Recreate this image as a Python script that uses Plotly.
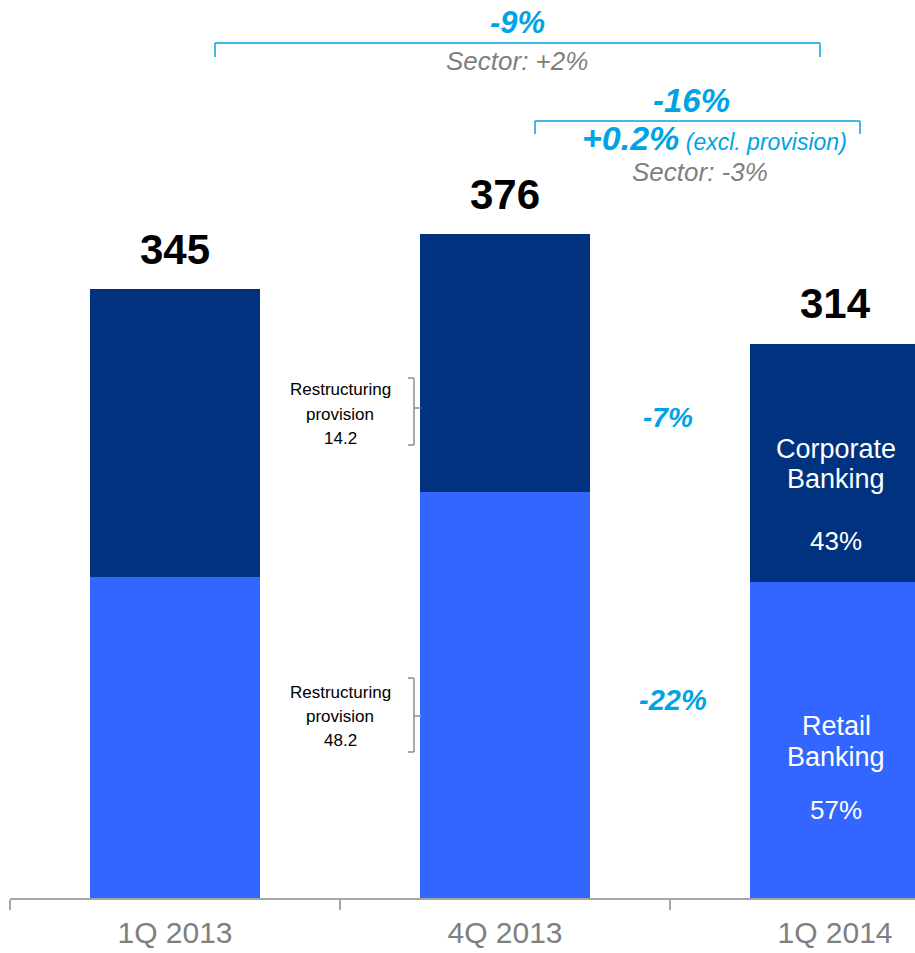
import plotly.graph_objects as go

# Operating expenses by segment, quarterly
quarters = ["1Q 2013", "4Q 2013", "1Q 2014"]
retail_banking = [182, 230, 179]
corporate_banking = [163, 146, 135]
totals = [r + c for r, c in zip(retail_banking, corporate_banking)]

provision_corporate = 14.2
provision_retail = 48.2

yoy_change = "-9%"
yoy_sector = "Sector: +2%"
qoq_change = "-16%"
qoq_excl_provision = "+0.2%"
qoq_sector = "Sector: -3%"
corporate_change = "-7%"
retail_change = "-22%"

W, H = 915, 953
ML, MR, MT, MB = 10, 0, 0, 55
PLOT_W = W - ML - MR
PLOT_H = H - MT - MB

DARK = "#003280"
LIGHT = "#3366FF"
CYAN = "#00A3E4"
GREY_TXT = "#7F7F7F"
AXIS_GREY = "#A6A6A6"
BRACKET_GREY = "#8C8C8C"
FONT = "Liberation Sans, Arial, sans-serif"


def px(x):
    return (x - ML) / PLOT_W


def py(y):
    return (MT + PLOT_H - y) / PLOT_H


fig = go.Figure()
fig.add_trace(go.Bar(x=quarters, y=retail_banking, name="Retail Banking",
                     marker=dict(color=LIGHT, line=dict(width=0)),
                     hoverinfo="skip"))
fig.add_trace(go.Bar(x=quarters, y=corporate_banking, name="Corporate Banking",
                     marker=dict(color=DARK, line=dict(width=0)),
                     hoverinfo="skip"))

annotations = []
shapes = []


def text(x, y, s, size, color="black", bold=False, italic=False):
    if bold:
        s = "<b>" + s + "</b>"
    if italic:
        s = "<i>" + s + "</i>"
    annotations.append(dict(x=px(x), y=py(y), xref="paper", yref="paper",
                            text=s, showarrow=False, xanchor="center",
                            yanchor="middle",
                            font=dict(family=FONT, size=size, color=color)))


def seg(x0, y0, x1, y1, color, width):
    shapes.append(dict(type="line", xref="paper", yref="paper",
                       x0=px(x0), y0=py(y0), x1=px(x1), y1=py(y1),
                       line=dict(color=color, width=width)))


# totals above each bar
for q, t in zip(quarters, totals):
    annotations.append(dict(x=q, y=t, xref="x", yref="y", text="<b>%d</b>" % t,
                            showarrow=False, xanchor="center", yanchor="middle",
                            yshift=40,
                            font=dict(family=FONT, size=42, color="black")))

# year-on-year bracket
seg(215, 43, 820, 43, CYAN, 1.5)
seg(215, 43, 215, 57, CYAN, 1.5)
seg(820, 43, 820, 57, CYAN, 1.5)
text(517, 23, yoy_change, 31, CYAN, bold=True, italic=True)
text(517, 61, yoy_sector, 26, GREY_TXT, italic=True)

# quarter-on-quarter bracket
seg(535, 121, 860, 121, CYAN, 1.5)
seg(535, 121, 535, 134, CYAN, 1.5)
seg(860, 121, 860, 134, CYAN, 1.5)
text(691, 100, qoq_change, 33, CYAN, bold=True, italic=True)
annotations.append(dict(
    x=px(714), y=py(138), xref="paper", yref="paper", showarrow=False,
    xanchor="center", yanchor="middle",
    text="<b><i>%s</i></b><i><span style='font-size:23px'> (excl. provision)</span></i>"
         % qoq_excl_provision,
    font=dict(family=FONT, size=34, color=CYAN)))
text(700, 172, qoq_sector, 26, GREY_TXT, italic=True)

# segment changes
text(668, 418, corporate_change, 28, CYAN, bold=True, italic=True)
text(673, 700, retail_change, 29, CYAN, bold=True, italic=True)

# restructuring provision notes with side brackets
for (y_top, y_bot, y_mid, y_txt, lines) in [
        (378, 445, 408, 390, ["Restructuring", "provision", "%.1f" % provision_corporate]),
        (678, 752, 716, 692, ["Restructuring", "provision", "%.1f" % provision_retail])]:
    for i, s in enumerate(lines):
        text(340, y_txt + 24 * i, s, 17, "black")
    seg(414, y_top, 414, y_bot, BRACKET_GREY, 1.5)
    seg(408, y_top, 414, y_top, BRACKET_GREY, 1.5)
    seg(408, y_bot, 414, y_bot, BRACKET_GREY, 1.5)
    seg(414, y_mid, 421, y_mid, BRACKET_GREY, 1.5)

# segment labels inside the latest bar
corp_share = round(100 * corporate_banking[-1] / totals[-1])
retail_share = round(100 * retail_banking[-1] / totals[-1])
text(836, 449, "Corporate", 27, "white")
text(836, 479, "Banking", 27, "white")
text(836, 541, "%d%%" % corp_share, 26, "white")
text(836, 726, "Retail", 27, "white")
text(836, 757, "Banking", 27, "white")
text(836, 810, "%d%%" % retail_share, 26, "white")

y_top_val = PLOT_H / 1.765

fig.update_layout(
    width=W, height=H,
    margin=dict(l=ML, r=MR, t=MT, b=MB, pad=0, autoexpand=False),
    barmode="stack",
    bargap=0.485,
    showlegend=False,
    plot_bgcolor="white",
    paper_bgcolor="white",
    annotations=annotations,
    shapes=shapes,
    xaxis=dict(type="category", range=[-0.5, -0.5 + PLOT_W / 330.0],
               tickson="boundaries", ticks="outside", ticklen=10,
               tickcolor=AXIS_GREY, tickwidth=1.5,
               showline=True, linecolor=AXIS_GREY, linewidth=1.5,
               showgrid=False, ticklabelstandoff=7, automargin=False,
               tickfont=dict(family=FONT, size=30, color=GREY_TXT)),
    yaxis=dict(range=[0, y_top_val], visible=False, showgrid=False,
               zeroline=False, automargin=False),
)

fig.write_html("out.html")
